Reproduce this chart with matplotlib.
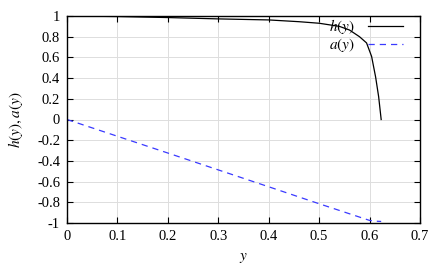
import matplotlib
matplotlib.use("Agg")
import matplotlib.pyplot as plt

plt.rcParams['font.family'] = ['Liberation Serif', 'DejaVu Serif']
plt.rcParams['mathtext.fontset'] = 'stix'
plt.rcParams['axes.unicode_minus'] = False

# h(y) data
h_y = [0.0, 0.1, 0.2, 0.3, 0.4, 0.46, 0.5, 0.54, 0.56, 0.58, 0.594, 0.604, 0.612, 0.618, 0.623]
h_v = [1.0, 0.995, 0.985, 0.972, 0.962, 0.945, 0.93, 0.90, 0.865, 0.80, 0.74, 0.61, 0.41, 0.22, 0.0]

# a(y) data
a_y = [0.0, 0.1, 0.2, 0.3, 0.4, 0.5, 0.6, 0.61, 0.623]
a_v = [0.0, -0.162, -0.324, -0.487, -0.65, -0.814, -0.975, -0.982, -0.985]

xticks = [0, 0.1, 0.2, 0.3, 0.4, 0.5, 0.6, 0.7]
xtick_labels = ['0', '0.1', '0.2', '0.3', '0.4', '0.5', '0.6', '0.7']
yticks = [-1, -0.8, -0.6, -0.4, -0.2, 0, 0.2, 0.4, 0.6, 0.8, 1]
ytick_labels = ['-1', '-0.8', '-0.6', '-0.4', '-0.2', '0', '0.2', '0.4', '0.6', '0.8', '1']

fig = plt.figure(figsize=(4.45, 2.67), dpi=100)
ax = fig.add_axes([67/445, 1-223/267, (420-67)/445, (223-16)/267])

ax.plot(h_y, h_v, color='black', lw=0.9, label='$h(y)$')
ax.plot(a_y, a_v, color='#3a3aff', lw=0.9, dashes=(5, 4), label='$a(y)$')

ax.set_xlim(0, 0.7)
ax.set_ylim(-1, 1)
ax.set_xticks(xticks)
ax.set_xticklabels(xtick_labels)
ax.set_yticks(yticks)
ax.set_yticklabels(ytick_labels)
ax.tick_params(direction='in', top=True, right=True, length=4, width=0.8,
               labelsize=10.5, pad=5)
ax.grid(True, color='#dddddd', lw=0.7)
ax.set_axisbelow(True)
for s in ax.spines.values():
    s.set_linewidth(1.0)

ax.set_xlabel('$y$', fontsize=11, labelpad=6)
ax.set_ylabel('$h(y), a(y)$', fontsize=11, labelpad=9)

leg = ax.legend(loc='upper right', bbox_to_anchor=((403-67)/353, (223-17)/207),
                markerfirst=False, frameon=False, fontsize=11, handlelength=2.3,
                handletextpad=0.85, labelspacing=0.0, borderpad=0.0,
                borderaxespad=0.0)

fig.savefig('out.png', dpi=100)
